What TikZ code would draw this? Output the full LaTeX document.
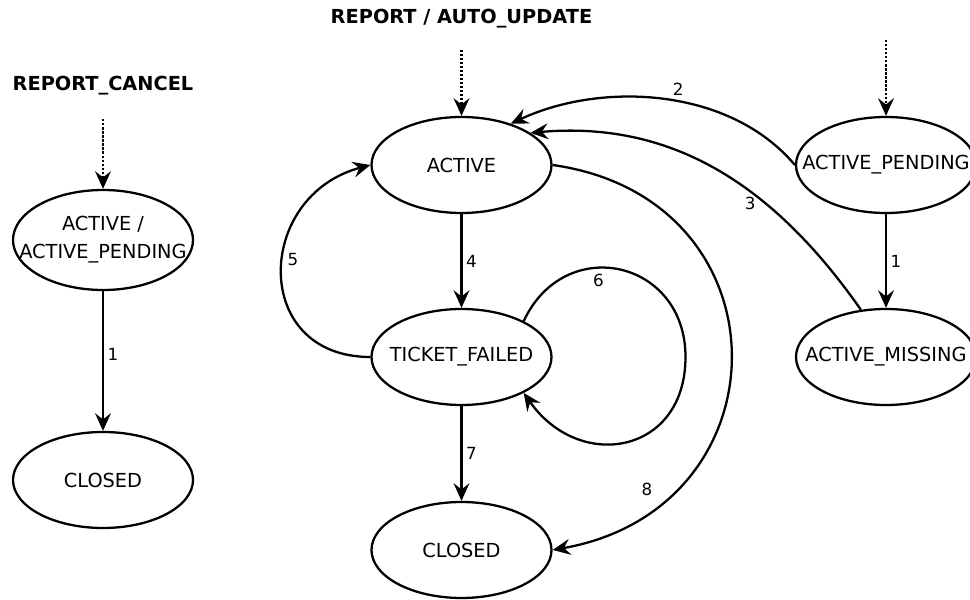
\documentclass[tikz,border=0pt]{standalone}
\usepackage{fontspec}
\setmainfont{DejaVu Sans}
\usetikzlibrary{arrows.meta,shapes.geometric}

\begin{document}
\begin{tikzpicture}[
    state/.style={ellipse, draw, line width=1.3pt, minimum width=3.6cm,
      minimum height=1.92cm, inner xsep=-6mm, inner ysep=0pt,
      font=\fontsize{11}{13}\selectfont},
    trans/.style={-{Stealth[length=10pt,width=9pt,inset=3.5pt]}, line width=1.3pt},
    entry/.style={-{Stealth[length=10pt,width=9pt,inset=3.5pt]}, line width=1.3pt, densely dotted},
    num/.style={font=\fontsize{9.5}{11}\selectfont, inner sep=2pt},
    event/.style={font=\bfseries\fontsize{11}{13}\selectfont}
  ]
  \useasboundingbox (0,0) rectangle (19.4,11.98);
  \clip (0,0) rectangle (19.4,11.98);

  % cancel
  \node[event] (cancel) at (2.06,10.26) {REPORT\_CANCEL};
  \node[state, align=center, minimum height=2cm] (leftpending) at (2.06,7.18) {ACTIVE /\\[3pt]ACTIVE\_PENDING};
  \node[state] (leftclosed) at (2.06,2.38) {CLOSED};
  \draw[entry, shorten <=0.35cm] (cancel) -- (leftpending);
  \draw[trans] (leftpending) -- node[num, right, pos=0.45] (l1) {1} (leftclosed);

  % report / auto update
  \node[event] (update) at (9.23,11.6) {REPORT / AUTO\_UPDATE};
  \node[state] (active) at (9.23,8.68) {ACTIVE};
  \node[state] (failed) at (9.23,4.84) {TICKET\_FAILED};
  \node[state] (closed) at (9.23,0.98) {CLOSED};
  \node[state] (pending) at (17.72,8.68) {ACTIVE\_PENDING};
  \node[state] (missing) at (17.72,4.84) {ACTIVE\_MISSING};
  \coordinate (pendingin) at (17.72,11.18);
  \coordinate (loopright) at ([xshift=4.48cm]failed.center);

  \draw[entry, shorten <=0.3cm] (update) -- (active);
  \draw[entry] (pendingin) -- (pending);
  \draw[trans] (pending) -- node[num, right] (r1) {1} (missing);
  \draw[trans] (active) -- node[num, right] (n4) {4} (failed);
  \draw[trans] (failed) -- node[num, right] (n7) {7} (closed);
  \draw[trans] (pending.west) to[out=130, in=25, looseness=0.9]
    node[num, pos=0.45, above=1pt] (n2) {2} (active.40);
  \draw[trans] (missing.118) to[out=125, in=5]
    node[num, pos=0.35, left=3pt] (n3) {3} (active.25);
  \draw[trans] (failed.west) to[out=180, in=195, looseness=1.6]
    node[num, pos=0.55, right] (n5) {5} (active.west);
  \draw[trans] (failed.30) to[out=65, in=90, looseness=1.5]
    node[num, pos=0.4, below=1pt] (n6) {6} (loopright)
    to[out=-90, in=-55, looseness=1.5] (failed.-30);
  \draw[trans] (active.east) to[out=-8, in=10, looseness=1.6]
    node[num, pos=0.78, left=10pt] (n8) {8} (closed.east);
\end{tikzpicture}
\end{document}
